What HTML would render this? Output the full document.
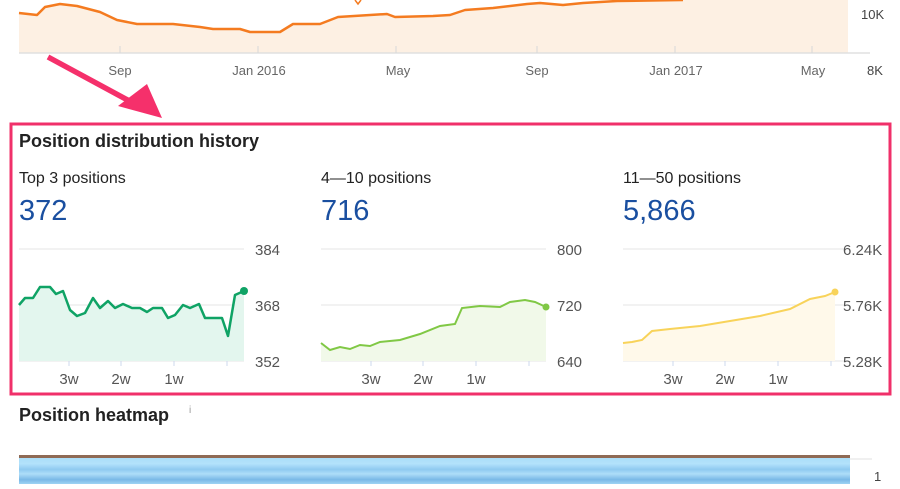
<!DOCTYPE html>
<html><head><meta charset="utf-8"><style>
body{margin:0;background:#fff;width:900px;height:484px;overflow:hidden;font-family:"Liberation Sans",Arial,sans-serif;}
</style></head><body>
<svg width="900" height="484" viewBox="0 0 900 484" xmlns="http://www.w3.org/2000/svg" font-family="Liberation Sans, Arial, sans-serif">
<defs>
<linearGradient id="hb" x1="0" y1="0" x2="0" y2="1">
<stop offset="0" stop-color="#a6dbf7"/><stop offset="0.3" stop-color="#b3e2fb"/><stop offset="0.5" stop-color="#8fcaf0"/><stop offset="0.65" stop-color="#aeddf8"/><stop offset="0.85" stop-color="#7ab8e6"/><stop offset="1" stop-color="#9dd3f4"/>
</linearGradient>
</defs>
<!-- top chart -->
<path d="M19,13 L37,15 L45,7 L60,4 L77,6 L100,12 L117,20 L137,24 L173,24 L200,27 L213,29 L240,29 L250,32 L280,32 L293,24 L320,24 L338,17 L387,14 L395,17 L433,16 L450,15 L465,10 L493,8 L527,4 L540,3 L563,5 L583,3 L617,1 L683,0 L848,0 L848,53 L19,53 Z" fill="#fdf0e3"/>
<path d="M19,13 L37,15 L45,7 L60,4 L77,6 L100,12 L117,20 L137,24 L173,24 L200,27 L213,29 L240,29 L250,32 L280,32 L293,24 L320,24 L338,17 L387,14 L395,17 L433,16 L450,15 L465,10 L493,8 L527,4 L540,3 L563,5 L583,3 L617,1 L683,0" fill="none" stroke="#f47b20" stroke-width="2.5" stroke-linejoin="round"/>
<path d="M355,0 L358,4 L361,0" fill="none" stroke="#f47b20" stroke-width="1.5"/>
<line x1="19" y1="53" x2="870" y2="53" stroke="#e0e0e0" stroke-width="1.5"/>
<g stroke="#d8d8d8"><line x1="120" y1="46" x2="120" y2="53"/><line x1="258" y1="46" x2="258" y2="53"/><line x1="396" y1="46" x2="396" y2="53"/><line x1="537" y1="46" x2="537" y2="53"/><line x1="675" y1="46" x2="675" y2="53"/><line x1="812" y1="46" x2="812" y2="53"/></g>
<g font-size="13" fill="#666" text-anchor="middle"><text x="120" y="75">Sep</text><text x="259" y="75">Jan 2016</text><text x="398" y="75">May</text><text x="537" y="75">Sep</text><text x="676" y="75">Jan 2017</text><text x="813" y="75">May</text></g>
<g font-size="13" fill="#444"><text x="861" y="19">10K</text><text x="867" y="75">8K</text></g>
<!-- arrow -->
<line x1="48" y1="57" x2="135" y2="104" stroke="#f5306b" stroke-width="5.5"/>
<polygon points="162,118 118,106 147,84" fill="#f5306b"/>
<!-- box -->
<rect x="11" y="124" width="879" height="270" fill="none" stroke="#f0306a" stroke-width="3"/>
<text x="19" y="147" font-size="18" font-weight="bold" fill="#222">Position distribution history</text>
<g font-size="16" fill="#222"><text x="19" y="183">Top 3 positions</text><text x="321" y="183">4—10 positions</text><text x="623" y="183">11—50 positions</text></g>
<g font-size="29" fill="#1a4fa0"><text x="19" y="220">372</text><text x="321" y="220">716</text><text x="623" y="220">5,866</text></g>
<g stroke="#e6e6e6"><line x1="19" y1="249" x2="244" y2="249"/><line x1="19" y1="305" x2="244" y2="305"/><line x1="19" y1="361" x2="244" y2="361"/>
<line x1="321" y1="249" x2="546" y2="249"/><line x1="321" y1="305" x2="546" y2="305"/><line x1="321" y1="361" x2="546" y2="361"/>
<line x1="623" y1="249" x2="848" y2="249"/><line x1="623" y1="305" x2="848" y2="305"/><line x1="623" y1="361" x2="848" y2="361"/></g>
<path d="M19,305 L25,298 L33,298 L40,287 L50,287 L56,294 L63,291 L70,310 L77,316 L85,313 L93,298 L100,308 L108,301 L115,308 L123,304 L132,308 L140,308 L147,312 L153,308 L162,308 L168,318 L175,315 L183,305 L190,308 L199,304 L205,318 L222,318 L228,336 L235,295 L244,291 L244,361 L19,361Z" fill="#e3f6ee"/>
<path d="M19,305 L25,298 L33,298 L40,287 L50,287 L56,294 L63,291 L70,310 L77,316 L85,313 L93,298 L100,308 L108,301 L115,308 L123,304 L132,308 L140,308 L147,312 L153,308 L162,308 L168,318 L175,315 L183,305 L190,308 L199,304 L205,318 L222,318 L228,336 L235,295 L244,291" fill="none" stroke="#0fa365" stroke-width="2.5" stroke-linejoin="round"/>
<circle cx="244" cy="291" r="4" fill="#0fa365"/>
<path d="M321,343 L330,350 L340,347 L350,349 L360,345 L370,346 L380,342 L400,340 L420,334 L440,326 L455,324 L462,308 L480,306 L500,307 L510,302 L525,300 L535,302 L546,307 L546,361 L321,361Z" fill="#f1f9e9"/>
<path d="M321,343 L330,350 L340,347 L350,349 L360,345 L370,346 L380,342 L400,340 L420,334 L440,326 L455,324 L462,308 L480,306 L500,307 L510,302 L525,300 L535,302 L546,307" fill="none" stroke="#80c845" stroke-width="2"/>
<circle cx="546" cy="307" r="3.5" fill="#80c845"/>
<path d="M623,343 L632,342 L642,340 L652,331 L670,329 L700,326 L730,321 L760,316 L790,309 L810,299 L825,296 L835,292 L835,361 L623,361Z" fill="#fff9ea"/>
<path d="M623,343 L632,342 L642,340 L652,331 L670,329 L700,326 L730,321 L760,316 L790,309 L810,299 L825,296 L835,292" fill="none" stroke="#f8d35a" stroke-width="2"/>
<circle cx="835" cy="292" r="3.5" fill="#f8d35a"/>
<g font-size="15" fill="#555"><text x="255" y="255">384</text><text x="255" y="311">368</text><text x="255" y="367">352</text>
<text x="557" y="255">800</text><text x="557" y="311">720</text><text x="557" y="367">640</text>
<text x="843" y="255">6.24K</text><text x="843" y="311">5.76K</text><text x="843" y="367">5.28K</text></g>
<g stroke="#cdd8ee"><line x1="69" y1="361" x2="69" y2="366"/><line x1="121" y1="361" x2="121" y2="366"/><line x1="174" y1="361" x2="174" y2="366"/><line x1="227" y1="361" x2="227" y2="366"/>
<line x1="371" y1="361" x2="371" y2="366"/><line x1="423" y1="361" x2="423" y2="366"/><line x1="476" y1="361" x2="476" y2="366"/><line x1="529" y1="361" x2="529" y2="366"/>
<line x1="673" y1="361" x2="673" y2="366"/><line x1="725" y1="361" x2="725" y2="366"/><line x1="778" y1="361" x2="778" y2="366"/><line x1="831" y1="361" x2="831" y2="366"/></g>
<g font-size="15" fill="#555" text-anchor="middle"><text x="69" y="384">3w</text><text x="121" y="384">2w</text><text x="174" y="384">1w</text>
<text x="371" y="384">3w</text><text x="423" y="384">2w</text><text x="476" y="384">1w</text>
<text x="673" y="384">3w</text><text x="725" y="384">2w</text><text x="778" y="384">1w</text></g>
<text x="19" y="421" font-size="18" font-weight="bold" fill="#222">Position heatmap</text>
<text x="189" y="413" font-size="10" fill="#999">i</text>
<rect x="19" y="455" width="831" height="29" fill="url(#hb)"/>
<rect x="19" y="455" width="831" height="3" fill="#8f6a55"/>
<line x1="850" y1="459" x2="872" y2="459" stroke="#e0e0e0"/>
<text x="874" y="481" font-size="13" fill="#444">1</text>
</svg>
</body></html>
